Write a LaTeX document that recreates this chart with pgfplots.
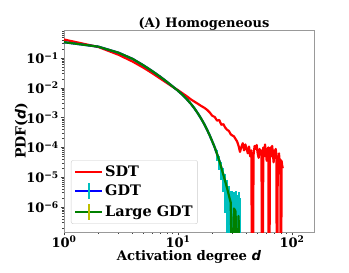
\documentclass[border=0pt]{standalone}
\usepackage{fontspec}
\setmainfont{DejaVu Serif}
\newfontfamily\dsans{DejaVu Sans}
\usepackage{pgfplots}
\pgfplotsset{compat=1.18}
\definecolor{mred}{HTML}{FF0000}
\definecolor{mblue}{HTML}{0000FF}
\definecolor{mgreen}{HTML}{008000}
\definecolor{mcyan}{HTML}{00BFBF}
\definecolor{myellow}{HTML}{BFBF00}
\newcommand{\dd}{{\dsans\bfseries\itshape d}}
\newcommand{\tl}[1]{\textbf{10\textsuperscript{#1}}}
\begin{document}
\begin{tikzpicture}
\useasboundingbox (-64pt,-41pt) rectangle (285pt,232pt);
\begin{axis}[
  scale only axis, width=250pt, height=202pt,
  xmode=log, ymode=log,
  xmin=1, xmax=156, ymin=1.45e-7, ymax=0.87,
  font=\bfseries\fontsize{13}{15}\selectfont,
  xtick={1,10,100}, xticklabels={\tl{0},\tl{1},\tl{2}},
  ytick={1e-6,1e-5,1e-4,1e-3,1e-2,1e-1},
  yticklabels={\tl{−6},\tl{−5},\tl{−4},\tl{−3},\tl{−2},\tl{−1}},
  minor xtick={2,3,4,5,6,7,8,9,20,30,40,50,60,70,80,90},
  minor ytick={2e-7,3e-7,4e-7,5e-7,6e-7,7e-7,8e-7,9e-7,2e-6,3e-6,4e-6,5e-6,6e-6,7e-6,8e-6,9e-6,2e-5,3e-5,4e-5,5e-5,6e-5,7e-5,8e-5,9e-5,2e-4,3e-4,4e-4,5e-4,6e-4,7e-4,8e-4,9e-4,2e-3,3e-3,4e-3,5e-3,6e-3,7e-3,8e-3,9e-3,2e-2,3e-2,4e-2,5e-2,6e-2,7e-2,8e-2,9e-2,2e-1,3e-1,4e-1,5e-1,6e-1,7e-1,8e-1},
  xtick pos=bottom, ytick pos=left, tick align=outside,
  major tick length=3.5pt, minor tick length=2pt,
  tick style={black!75, line width=0.6pt},
  xticklabel style={inner sep=0pt, yshift=-0.5pt},
  yticklabel style={inner sep=1.5pt},
  axis line style={gray!80, line width=0.6pt},
  title={(A) Homogeneous},
  every axis title/.style={at={(axis description cs:0.5,1)}, anchor=base, yshift=2.5pt, xshift=15pt,
    font=\bfseries\fontsize{13}{15}\selectfont},
  xlabel={Activation degree \dd},
  ylabel={PDF(\dd)},
  every axis x label/.style={at={(axis description cs:0.5,-0.123)}, anchor=center,
    font=\bfseries\fontsize{13.2}{15}\selectfont},
  every axis y label/.style={at={(axis description cs:-0.17,0.5)}, anchor=center, rotate=90,
    font=\bfseries\fontsize{14}{16}\selectfont},
  unbounded coords=jump,
  legend cell align=left,
  legend style={at={(0.028,0.04)}, anchor=south west, draw=black!20, rounded corners=2pt,
    fill=white, fill opacity=0.8, text opacity=1, row sep=2.5pt, inner sep=3pt,
    font=\bfseries\fontsize{14.5}{16.5}\selectfont},
]
% SDT
\addplot[mred, line width=2.2pt, line join=round,
  legend image code/.code={\draw[mred, line width=2pt] (0pt,0pt) -- (27pt,0pt);}]
coordinates {
(1,0.417) (2,0.234) (3,0.129) (4,0.0759) (5,0.0468) (6,0.0302) (7,0.0204) (8,0.0145)
(9,0.0107) (10,0.00832) (11,0.00646) (12,0.00513) (13,0.00407) (14,0.00339) (15,0.00288)
(16,0.00245) (17,0.00214) (18,0.00182) (19,0.00148) (20,0.00115) (21,0.00105) (22,7.94e-4)
(23,8.32e-4) (24,5.75e-4) (25,6.03e-4) (26,4.57e-4) (27,3.89e-4) (28,3.55e-4) (29,2.75e-4)
(30,2.51e-4) (31,2.34e-4) (32,1.91e-4) (33,1.58e-4) (34,1.12e-4) (35,7.08e-5) (36,1.05e-4)
(37,1.38e-4) (38,7.94e-5) (39,1.26e-4) (40,8.91e-5) (41,6.31e-5) (42,1.07e-4) (43,5.01e-5)
(44,7.94e-5) (45,1e-12) (46,5.62e-5) (47,1.12e-4) (48,8.91e-5) (49,1.20e-4) (50,6.31e-5)
(51,4.47e-5) (52,8.91e-5) (53,5.62e-5) (54,7.94e-5) (55,1e-12) (56,1.0e-4) (57,5.01e-5)
(58,1.26e-4) (59,7.08e-5) (60,3.55e-5) (61,7.94e-5) (62,1.0e-4) (63,1e-12) (64,6.31e-5)
(65,1.0e-4) (66,5.01e-5) (67,1.12e-4) (68,6.31e-5) (69,3.16e-5) (70,7.94e-5) (71,4.47e-5)
(72,8.91e-5) (73,5.62e-5) (74,1e-12) (75,5.01e-5) (76,3.55e-5) (77,6.31e-5) (78,2.51e-5)
(79,3.98e-5) (80,1e-12) (81,3.55e-5) (82,2.51e-5) (83,2.0e-5)
};
\addlegendentry{SDT}
% GDT
\addplot[mblue, line width=2.2pt, line join=round,
  legend image code/.code={\draw[mblue, line width=2pt] (0pt,0pt) -- (27pt,0pt);
    \draw[mcyan, line width=2pt] (13.5pt,-8pt) -- (13.5pt,8pt);}]
coordinates {
(1,0.339) (2,0.240) (3,0.151) (4,0.0933) (5,0.0562) (6,0.0355) (7,0.0234) (8,0.0158)
(9,0.0110) (10,0.00794) (11,0.00575) (12,0.00407) (13,0.00288) (14,0.00200) (15,0.00135)
(16,9.12e-4) (17,6.03e-4) (18,3.89e-4) (19,2.51e-4) (20,1.58e-4) (21,1.0e-4) (22,6.03e-5)
(23,3.63e-5) (24,2.09e-5) (25,1.20e-5) (26,7.08e-6) (27,4.17e-6) (28,2.40e-6) (29,1.41e-6)
(30,1e-9) (31,8.91e-7) (32,7.08e-7) (33,1e-9) (34,5.01e-7) (35,1e-9)
};
\addlegendentry{GDT}
% GDT error bars
\addplot[mcyan, line width=2pt, forget plot]
coordinates {
(22,3.55e-5) (22,7.94e-5) (22,nan)
(23,1.78e-5) (23,5.25e-5) (23,nan)
(24,7.94e-6) (24,3.31e-5) (24,nan)
(25,3.16e-6) (25,2.0e-5) (25,nan)
(26,6.31e-7) (26,1.26e-5) (26,nan)
(27,1e-9) (27,7.94e-6) (27,nan)
(28,1e-9) (28,5.01e-6) (28,nan)
(29,1e-9) (29,3.55e-6) (29,nan)
(30,1e-9) (30,3.55e-6) (30,nan)
(31,1e-9) (31,3.16e-6) (31,nan)
(32,1e-9) (32,3.55e-6) (32,nan)
(33,1e-9) (33,2.51e-6) (33,nan)
(34,1e-9) (34,3.16e-6) (34,nan)
(35,1e-9) (35,2.0e-6)
};
% Large GDT
\addplot[mgreen, line width=2.2pt, line join=round,
  legend image code/.code={\draw[mgreen, line width=2pt] (0pt,0pt) -- (27pt,0pt);
    \draw[myellow, line width=2pt] (13.5pt,-8pt) -- (13.5pt,8pt);}]
coordinates {
(1,0.339) (2,0.240) (3,0.151) (4,0.0933) (5,0.0562) (6,0.0355) (7,0.0234) (8,0.0158)
(9,0.0110) (10,0.00794) (11,0.00575) (12,0.00407) (13,0.00288) (14,0.00200) (15,0.00135)
(16,9.12e-4) (17,6.03e-4) (18,3.89e-4) (19,2.51e-4) (20,1.58e-4) (21,1.0e-4) (22,6.03e-5)
(23,3.63e-5) (24,2.09e-5) (25,1.20e-5) (26,7.08e-6) (27,4.17e-6) (28,2.40e-6) (29,1.41e-6)
(30,1e-9) (31,8.91e-7) (32,7.08e-7) (33,1e-9) (34,5.01e-7) (35,1e-9)
};
\addlegendentry{Large GDT}
\end{axis}
\end{tikzpicture}
\end{document}
